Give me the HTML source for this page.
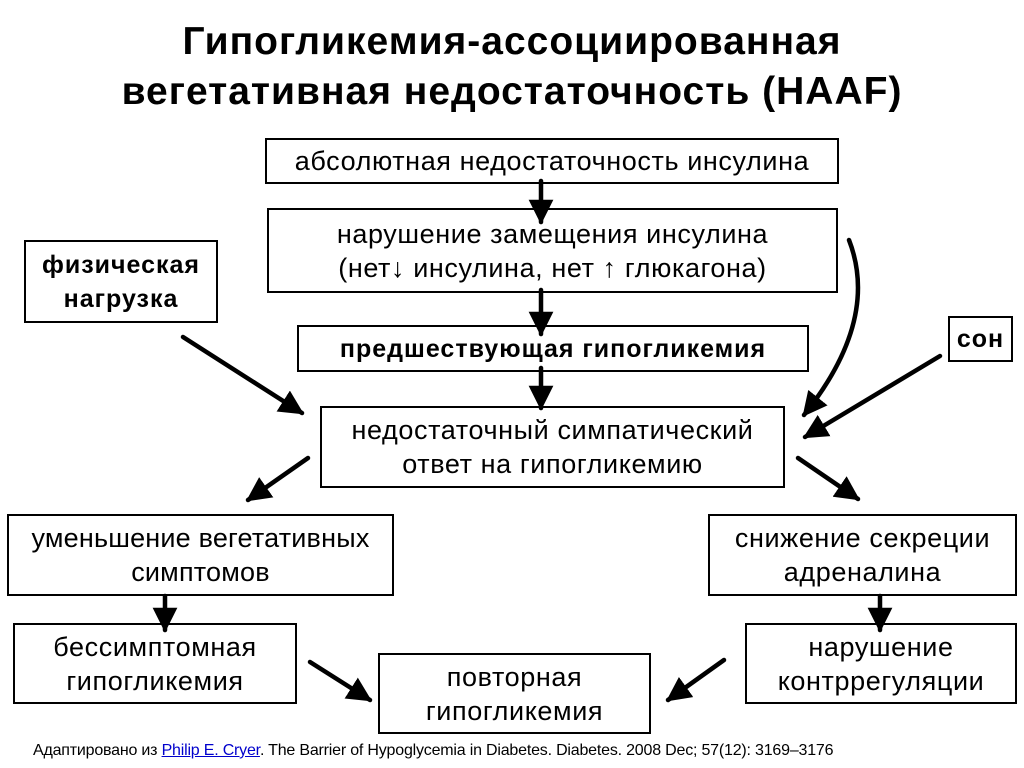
<!DOCTYPE html>
<html><head><meta charset="utf-8"><style>
body{margin:0;width:1024px;height:768px;background:#fff;position:relative;overflow:hidden;font-family:"Liberation Sans",sans-serif;color:#000}
.b{position:absolute;border:2px solid #000;box-sizing:border-box;display:flex;align-items:center;justify-content:center;text-align:center;font-size:27px;line-height:34px;letter-spacing:0.6px;background:#fff;white-space:nowrap}
.bold{font-weight:bold;letter-spacing:1px}
.t{position:absolute;left:0;width:1024px;text-align:center;font-weight:bold;font-size:39px;line-height:50px;letter-spacing:1px}
svg{position:absolute;left:0;top:0}
</style></head><body>
<div class="t" style="top:17px">Гипогликемия-ассоциированная<br>вегетативная недостаточность (HAAF)</div>
<div class="b" style="left:265px;top:138px;width:574px;height:46px">абсолютная недостаточность инсулина</div>
<div class="b" style="left:267px;top:208px;width:571px;height:85px">нарушение замещения инсулина<br>(нет&#8595; инсулина, нет &#8593; глюкагона)</div>
<div class="b bold" style="left:24px;top:240px;width:194px;height:83px;font-size:25px">физическая<br>нагрузка</div>
<div class="b bold" style="left:297px;top:325px;width:512px;height:47px;font-size:25px">предшествующая гипогликемия</div>
<div class="b bold" style="left:948px;top:316px;width:65px;height:46px;font-size:25px">сон</div>
<div class="b" style="left:320px;top:406px;width:465px;height:82px">недостаточный симпатический<br>ответ на гипогликемию</div>
<div class="b" style="left:7px;top:514px;width:387px;height:82px;letter-spacing:0.2px">уменьшение вегетативных<br>симптомов</div>
<div class="b" style="left:708px;top:514px;width:309px;height:82px">снижение секреции<br>адреналина</div>
<div class="b" style="left:13px;top:623px;width:284px;height:81px">бессимптомная<br>гипогликемия</div>
<div class="b" style="left:745px;top:623px;width:272px;height:81px">нарушение<br>контррегуляции</div>
<div class="b" style="left:378px;top:653px;width:273px;height:81px">повторная<br>гипогликемия</div>
<div style="position:absolute;left:33px;top:742px;font-size:16px;letter-spacing:-0.2px;white-space:nowrap">Адаптировано из <span style="color:#00c;text-decoration:underline">Philip E. Cryer</span>. The Barrier of Hypoglycemia in Diabetes. Diabetes. 2008 Dec; 57(12): 3169–3176</div>
<svg width="1024" height="768" viewBox="0 0 1024 768">
<defs><marker id="a" viewBox="0 0 10 10" refX="9" refY="5" markerWidth="5.5" markerHeight="5.5" orient="auto" markerUnits="strokeWidth"><path d="M0,0L10,5L0,10z" fill="#000"/></marker></defs>
<g stroke="#000" stroke-width="4.5" fill="none" stroke-linecap="round" marker-end="url(#a)">
<line x1="541" y1="181" x2="541" y2="222"/>
<line x1="541" y1="290" x2="541" y2="334"/>
<line x1="541" y1="368" x2="541" y2="408"/>
<line x1="183" y1="337" x2="302" y2="413"/>
<path d="M849,240 Q880,320 804,415"/>
<line x1="940" y1="356" x2="805" y2="437"/>
<line x1="308" y1="458" x2="248" y2="500"/>
<line x1="798" y1="458" x2="858" y2="499"/>
<line x1="165" y1="596" x2="165" y2="630"/>
<line x1="880" y1="596" x2="880" y2="630"/>
<line x1="310" y1="662" x2="370" y2="700"/>
<line x1="724" y1="660" x2="668" y2="700"/>
</g>
</svg>
</body></html>
